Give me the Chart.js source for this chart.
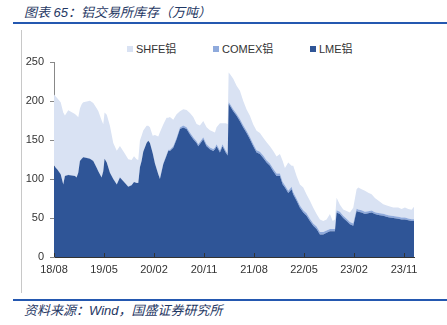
<!DOCTYPE html>
<html>
<head>
<meta charset="utf-8">
<script src="https://cdn.jsdelivr.net/npm/chart.js@4"></script>
<style>
  body { margin: 0; width: 447px; height: 325px; background: #fff; position: relative; overflow: hidden; font-family: "Liberation Sans", "Noto Sans CJK SC", sans-serif; }
  .title { position: absolute; left: 24px; top: 2px; font-size: 13px; font-style: italic; color: #1F3864; font-family: "Liberation Sans", "Noto Sans CJK SC", sans-serif; }
  .src { position: absolute; left: 24px; top: 300px; font-size: 13px; font-style: italic; color: #1F3864; font-family: "Liberation Sans", "Noto Sans CJK SC", sans-serif; }
  .hline { position: absolute; left: 13px; width: 434px; height: 2px; background: #2458B0; }
  .vline { position: absolute; left: 21px; top: 30px; width: 1px; height: 263px; background: #c8c8c8; }
  #chart { position: absolute; left: 0; top: 30px; }
  .leg { position: absolute; top: 42px; font-size: 11px; color: #333; white-space: nowrap; line-height: 14px; }
  .leg i { display: inline-block; width: 6px; height: 6px; margin-right: 3px; vertical-align: 1px; }
</style>
</head>
<body>
<div class="title">图表 65：铝交易所库存（万吨）</div>
<div class="hline" style="top:22px"></div>
<div class="vline"></div>
<div class="hline" style="top:299px"></div>
<div class="src">资料来源：Wind，国盛证券研究所</div>
<div id="legend"></div>
<canvas id="chart" width="447" height="262"></canvas>
<script>
// 日期（周期取样）
const dates = [
  '2018-08-01','2018-08-20','2018-09-07','2018-09-21','2018-09-30','2018-10-18','2018-11-24','2018-12-03','2018-12-12','2018-12-21','2018-12-31',
  '2019-01-09','2019-01-28','2019-02-15','2019-03-03','2019-03-22','2019-03-30','2019-04-18','2019-04-27','2019-05-04','2019-05-16','2019-06-03','2019-06-21','2019-07-10','2019-07-27','2019-08-24','2019-09-12','2019-09-30','2019-10-13','2019-10-27','2019-11-06','2019-11-15','2019-11-24','2019-12-03','2019-12-21','2019-12-30',
  '2020-01-09','2020-01-24','2020-02-06','2020-02-24','2020-03-03','2020-03-21','2020-04-09','2020-04-18','2020-04-27','2020-05-15','2020-06-03','2020-06-21','2020-07-09','2020-07-27','2020-08-15','2020-09-03','2020-09-21','2020-09-30','2020-10-09','2020-10-27','2020-11-15','2020-12-03','2020-12-21','2020-12-30',
  '2021-01-09','2021-01-27','2021-02-11','2021-02-28','2021-03-09','2021-03-14','2021-03-21','2021-04-09','2021-04-27','2021-05-15','2021-06-03','2021-06-21','2021-07-09','2021-07-27','2021-08-15','2021-09-03','2021-09-21','2021-10-09','2021-10-27','2021-11-15','2021-12-03','2021-12-21',
  '2022-01-06','2022-01-18','2022-02-06','2022-02-24','2022-03-03','2022-03-21','2022-04-09','2022-04-27','2022-05-15','2022-06-03','2022-06-21','2022-07-09','2022-07-27','2022-08-15','2022-09-03','2022-09-21','2022-10-06','2022-10-18','2022-10-27','2022-11-15','2022-12-03','2022-12-21',
  '2023-01-09','2023-01-27','2023-02-15','2023-02-24','2023-03-12','2023-03-30','2023-04-18','2023-05-06','2023-05-24','2023-06-12','2023-07-09','2023-08-06','2023-09-03','2023-09-30','2023-10-18','2023-11-06','2023-11-24','2023-12-12','2023-12-25'
];

// LME铝 (万吨)
const lme = [
  117,112,106,93,104,105,104,102,108,123,126,
  128,127,126,123,114,110,102,110,126,121,108,100,93,102,95,90,92,96,95,95,115,123,135,146,149,
  146,133,120,106,100,119,130,136,136,140,151,164,166,164,157,151,146,142,145,151,142,138,136,138,
  142,134,142,134,130,196,194,187,181,174,166,159,151,142,134,132,127,121,117,110,104,104,
  93,89,82,87,80,72,63,57,53,46,40,36,29,29,31,33,33,33,57,55,50,46,
  42,40,59,58,57,55,56,57,55,54,53,51,50,49,48,48,47,46,46
];

// COMEX铝
const comex = [
  0.3,0.3,0.3,0.3,0.3,0.3,0.3,0.3,0.3,0.3,0.3,
  0.3,0.3,0.3,0.3,0.3,0.3,0.3,0.3,0.3,0.3,0.3,0.3,0.3,0.3,0.3,0.3,0.3,0.3,0.3,0.3,0.3,0.3,0.3,0.3,0.3,
  0.5,0.5,0.5,0.5,1,1,1.5,1.5,1.5,2,2,2,2.5,2.5,2.5,2.5,2.5,2.5,2.5,2.5,2.5,2.5,2.5,2.5,
  2.5,2.5,2.5,2.5,2.5,2.5,2.5,2.5,2.5,3,3,3,3,3,3,3,3,3,3,3,3,3,
  3,3,3,3,3,3,3,3,3,3,3,3,3,3,3,3,3,3,3,3,3,3,
  3,3,3,3,3,3,2.5,2.5,2.5,2.5,2.5,2.5,2.5,2.5,2.5,2.5,2.5,2.5,2.5
];

// SHFE铝
const shfe = [
  91,91,92,92,77,83,79,79,71,67,70,
  70,72,74,74,76,77,73,60,59,61,60,46,43,40,37,35,32,33,30,29,34,32,27,22,19,
  20,22,36,48,59,50,47,41,42,34,30,21,21,22,25,26,22,25,21,21,22,22,22,19,
  22,35,27,35,38,38,38,39,36,36,31,27,27,25,25,24,23,23,22,23,22,25,
  27,22,36,27,34,29,27,29,24,23,20,16,16,14,14,19,10,12,16,9,8,10,
  12,20,25,28,27,27,24,21,18,16,12,12,11,12,11,13,12,12,16
];

const xTickLabels = ['18/08','19/05','20/02','20/11','21/08','22/05','23/02','23/11'];
const yTicks = [0, 50, 100, 150, 200, 250];

const colors = { shfe: '#D9E2F3', comex: '#8FAADC', lme: '#2F5597' };

// 月份序号，2018-08 = 0
function monthIndex(s) {
  const [y, m, d] = s.split('-').map(Number);
  return (y - 2018) * 12 + (m - 8) + (d - 1) / 30;
}
const xs = dates.map(monthIndex);
const tickPos = xTickLabels.map(l => monthIndex('20' + l.replace('/', '-') + '-01'));

function pts(arr) { return arr.map((v, i) => ({ x: xs[i], y: v })); }

// 图例（HTML）
const legendItems = [
  { name: 'SHFE铝', color: colors.shfe, left: 127 },
  { name: 'COMEX铝', color: colors.comex, left: 213 },
  { name: 'LME铝', color: colors.lme, left: 310 }
];
document.getElementById('legend').innerHTML = legendItems.map(it =>
  `<div class="leg" style="left:${it.left}px"><i style="background:${it.color}"></i>${it.name}</div>`).join('');

// x轴刻度线画在轴内侧
const innerTicks = {
  id: 'innerTicks',
  afterDraw(chart) {
    const sx = chart.scales.x, ctx = chart.ctx, b = chart.chartArea.bottom;
    ctx.save();
    ctx.strokeStyle = '#333';
    ctx.lineWidth = 1;
    tickPos.forEach(v => {
      const px = Math.round(sx.getPixelForValue(v)) + 0.5;
      ctx.beginPath();
      ctx.moveTo(px, b);
      ctx.lineTo(px, b - 4);
      ctx.stroke();
    });
    ctx.restore();
  }
};

const tickFont = { family: '"Liberation Sans", sans-serif', size: 11 };

new Chart(document.getElementById('chart'), {
  type: 'line',
  data: {
    datasets: [
      { label: 'LME铝', data: pts(lme), backgroundColor: colors.lme, fill: 'origin' },
      { label: 'COMEX铝', data: pts(comex), backgroundColor: colors.comex, fill: '-1' },
      { label: 'SHFE铝', data: pts(shfe), backgroundColor: colors.shfe, fill: '-1' }
    ]
  },
  options: {
    responsive: false,
    animation: false,
    layout: { padding: { left: 0, right: 33, top: 32, bottom: 0 } },
    elements: { point: { radius: 0 }, line: { borderWidth: 0, tension: 0 } },
    plugins: { legend: { display: false }, tooltip: { enabled: false } },
    scales: {
      x: {
        type: 'linear',
        min: 0,
        max: xs[xs.length - 1],
        afterBuildTicks: s => { s.ticks = tickPos.map(v => ({ value: v })); },
        afterFit: s => { s.height = 35; },
        grid: { display: false, drawTicks: false },
        border: { display: true, color: '#333', width: 1 },
        ticks: {
          color: '#333', font: tickFont, padding: 6, maxRotation: 0, autoSkip: false,
          callback: (v, i) => xTickLabels[i]
        }
      },
      y: {
        stacked: true,
        min: 0,
        max: 250,
        afterBuildTicks: s => { s.ticks = yTicks.map(v => ({ value: v })); },
        afterFit: s => { s.width = 54; },
        grid: { display: true, drawOnChartArea: false, drawTicks: true, tickLength: 4, color: '#888' },
        border: { display: true, color: '#888', width: 1 },
        ticks: { color: '#333', font: tickFont, padding: 6 }
      }
    }
  },
  plugins: [innerTicks]
});
</script>
</body>
</html>
